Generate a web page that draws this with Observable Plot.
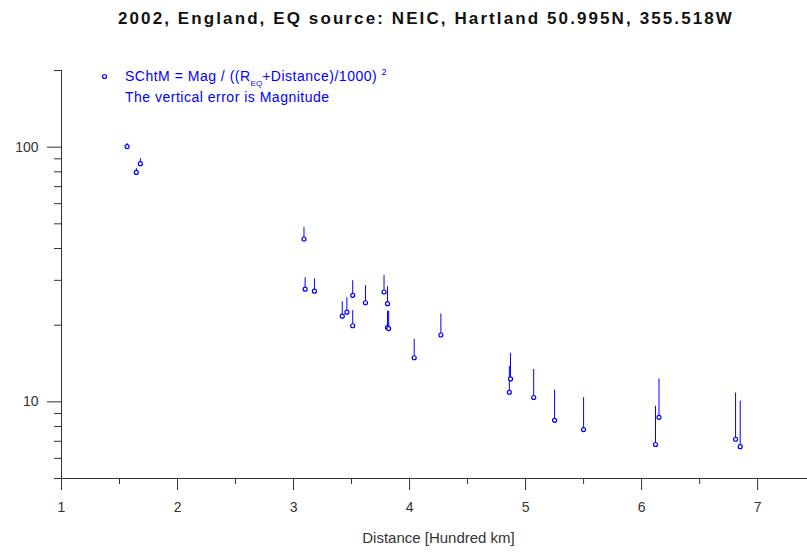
<!DOCTYPE html>
<html>
<head>
<meta charset="utf-8">
<script src="https://cdn.jsdelivr.net/npm/d3@7"></script>
<script src="https://cdn.jsdelivr.net/npm/@observablehq/plot@0.6"></script>
<style>
  html, body { margin: 0; padding: 0; background: #fff; }
  #wrap { position: relative; width: 807px; height: 552px; font-family: "Liberation Sans", Arial, sans-serif; }
  #title { position: absolute; left: 118px; top: 9px; font-size: 17px; font-weight: bold; letter-spacing: 2.1px; color: #111; white-space: nowrap; }
  #legend { position: absolute; left: 125px; top: 66px; font-size: 14px; letter-spacing: 0.5px; color: #0000ff; white-space: nowrap; line-height: 21px; }
  #legend sub { font-size: 8px; vertical-align: -5px; letter-spacing: 0; line-height: 0; }
  #legend sup { font-size: 9px; vertical-align: 6px; letter-spacing: 0; line-height: 0; }
  #chart { position: absolute; left: 0; top: 0; }
</style>
</head>
<body>
<div id="wrap">
  <div id="chart"></div>
  <div id="title">2002, England, EQ source: NEIC, Hartland 50.995N, 355.518W</div>
  <div id="legend">SChtM = Mag / ((R<sub>EQ</sub>+Distance)/1000) <sup>2</sup><br>The vertical error is Magnitude</div>
</div>
<script>
// Distance in hundred km
const distance = [1.565, 1.645, 1.68, 3.09, 3.10, 3.18, 3.42, 3.46, 3.51, 3.51, 3.62, 3.78, 3.81, 3.81, 3.82, 4.04, 4.27, 4.86, 4.87, 5.07, 5.25, 5.50, 6.12, 6.15, 6.81, 6.85];
// SChtM values
const schtm = [100.5, 79.6, 86.1, 43.6, 27.7, 27.2, 21.7, 22.5, 26.2, 19.9, 24.5, 27.0, 24.3, 19.6, 19.4, 14.9, 18.3, 10.9, 12.3, 10.4, 8.46, 7.78, 6.80, 8.69, 7.13, 6.67];
// Magnitude (vertical error)
const magnitude = [3.0, 3.0, 4.0, 4.7, 3.0, 3.2, 3.0, 3.1, 3.7, 2.9, 4.1, 4.3, 4.0, 3.1, 3.3, 2.7, 3.8, 2.9, 3.2, 3.0, 2.65, 2.6, 2.8, 3.6, 3.7, 3.4];

const xMajorTicks = [1, 2, 3, 4, 5, 6, 7];
const xMinorTicks = [1.5, 2.5, 3.5, 4.5, 5.5, 6.5];
const yMajorTicks = [10, 100];
const yMinorTicks = [5, 6, 7, 8, 9, 20, 30, 40, 50, 60, 70, 80, 90, 200];
const xLabel = "Distance [Hundred km]";

const data = distance.map((d, i) => ({d, v: schtm[i], m: magnitude[i]}));

const axisColor = "#333";
const blue = "#0000ff";

const chart = Plot.plot({
  width: 807,
  height: 552,
  marginTop: 70,
  marginRight: 0,
  marginBottom: 74,
  marginLeft: 61,
  x: {domain: [1, 7.43]},
  y: {type: "log", domain: [5, 200]},
  style: {fontFamily: "'Liberation Sans', Arial, sans-serif", fontSize: "14px", color: "#333", background: "#fff", overflow: "visible"},
  marks: [
    Plot.axisX(xMajorTicks, {tickSize: 12, tickPadding: 12, tickFormat: d => String(d), label: null, stroke: axisColor, fill: "#333"}),
    Plot.axisX(xMinorTicks, {tickSize: 6, tickFormat: () => "", label: null, stroke: axisColor}),
    Plot.axisY(yMajorTicks, {tickSize: 14, tickPadding: 9, tickFormat: d => String(d), label: null, stroke: axisColor, fill: "#333"}),
    Plot.axisY(yMinorTicks, {tickSize: 7, tickFormat: () => "", label: null, stroke: axisColor}),
    Plot.ruleX([1], {stroke: axisColor}),
    Plot.ruleY([5], {stroke: axisColor}),
    Plot.text([xLabel], {frameAnchor: "bottom", dx: 4, dy: 64, fontSize: 15, fill: "#333"}),
    Plot.ruleX(data, {x: "d", y1: "v", y2: r => r.v + r.m, stroke: blue, strokeWidth: 1}),
    Plot.dot(data, {x: "d", y: "v", r: 2, stroke: blue, fill: "#fff", strokeWidth: 1.2}),
    Plot.dot([0], {frameAnchor: "top-left", dx: 43, dy: 6, r: 2, stroke: blue, fill: "#fff", strokeWidth: 1.2})
  ]
});
document.getElementById("chart").appendChild(chart);
</script>
</body>
</html>
